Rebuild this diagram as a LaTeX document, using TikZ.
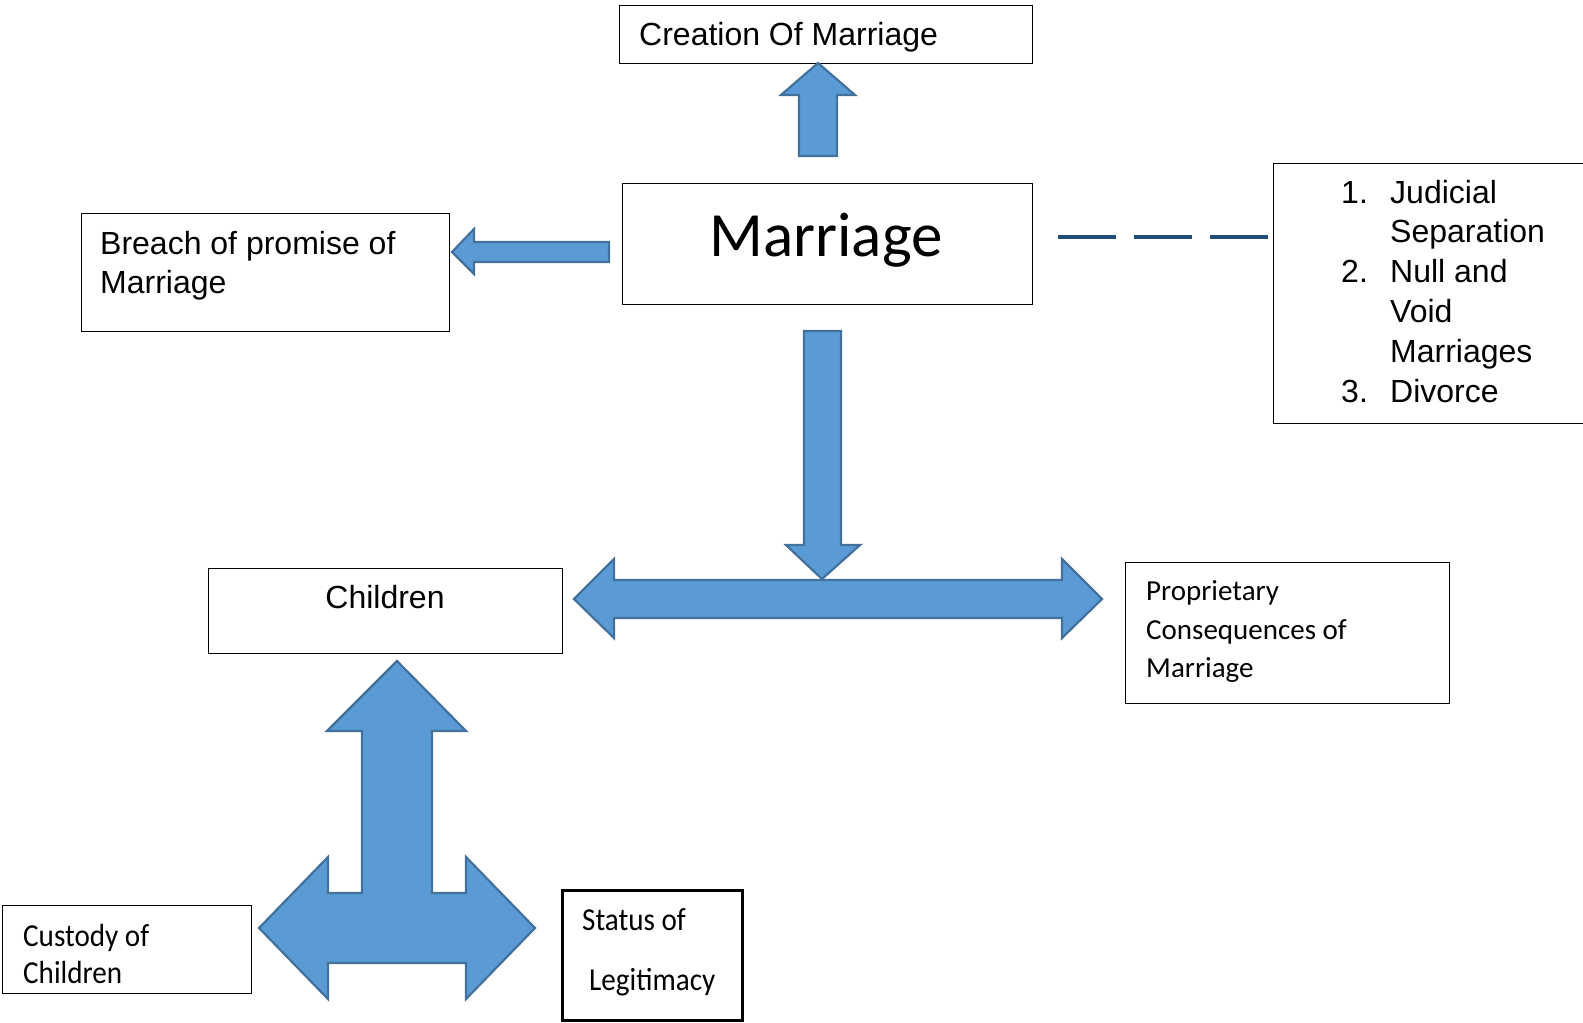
\documentclass[tikz,border=0pt]{standalone}
\usepackage{fontspec}
\setmainfont{Liberation Sans}
\newfontfamily\calfont{Carlito}
\newfontfamily\calnarrow[FakeStretch=0.91]{Carlito}
\definecolor{arrowfill}{HTML}{5B9BD5}
\definecolor{arrowline}{HTML}{41719C}
\definecolor{dashblue}{HTML}{1F4E79}
\begin{document}
\begin{tikzpicture}[x=1pt,y=-1pt,
  box/.style={draw=black, line width=1.4pt, inner sep=0pt, anchor=north west},
  blockarrow/.style={fill=arrowfill, draw=arrowline, line width=2.2pt, line join=miter},
  txt/.style={inner sep=0pt, anchor=base west, font=\fontsize{32}{38}\selectfont},
  caltxt/.style={inner sep=0pt, anchor=base west, font=\calfont\fontsize{29}{34}\selectfont},
  narrowtxt/.style={inner sep=0pt, anchor=base west, font=\calnarrow\fontsize{32}{38}\selectfont},
  dashline/.style={draw=dashblue, line width=4.5pt, dash pattern=on 58pt off 18pt}
]
\useasboundingbox (0,0) rectangle (1583,1023);
\fill[white] (0,0) rectangle (1583,1023);

% boxes
\node[box, minimum width=413pt, minimum height=58pt] (creation) at (619,5) {};
\node[box, minimum width=410pt, minimum height=121pt] (marriage) at (622,183) {};
\node[box, minimum width=368pt, minimum height=118pt] (breach) at (81,213) {};
\node[box, minimum width=330pt, minimum height=260pt] (list) at (1273,163) {};
\node[box, minimum width=354pt, minimum height=85pt] (children) at (208,568) {};
\node[box, minimum width=324pt, minimum height=141pt] (propr) at (1125,562) {};
\node[box, minimum width=249pt, minimum height=88pt] (custody) at (2,905) {};
\node[box, line width=2.5pt, minimum width=180pt, minimum height=130pt] (status) at (561,889) {};

% texts
\node[txt] (tcreation) at (639,45) {Creation Of Marriage};
\node[inner sep=0pt, anchor=base, font=\calfont\fontsize{63}{70}\selectfont] (tmarriage) at (826,256) {Marriage};
\node[txt] (tbreachA) at (100,254) {Breach of promise of};
\node[txt] (tbreachB) at (100,293) {Marriage};
\node[txt] (n1) at (1341,203) {1.};
\node[txt] (l1a) at (1390,203) {Judicial};
\node[txt] (l1b) at (1390,242) {Separation};
\node[txt] (n2) at (1341,282) {2.};
\node[txt] (l2a) at (1390,282) {Null and};
\node[txt] (l2b) at (1390,322) {Void};
\node[txt] (l2c) at (1390,362) {Marriages};
\node[txt] (n3) at (1341,402) {3.};
\node[txt] (l3) at (1390,402) {Divorce};
\node[txt, anchor=base] (tchildren) at (385,608) {Children};
\node[caltxt] (tpA) at (1146,600) {Proprietary};
\node[caltxt] (tpB) at (1146,639) {Consequences of};
\node[caltxt] (tpC) at (1146,677) {Marriage};
\node[narrowtxt] (tcA) at (23,946) {Custody of};
\node[narrowtxt] (tcB) at (23,983) {Children};
\node[narrowtxt] (tsA) at (582,930) {Status of};
\node[narrowtxt] (tsB) at (589,990) {Legitimacy};

% block arrows
\draw[blockarrow] (799,156) -- (799,95) -- (781,95) -- (818,63) -- (855,95) -- (837,95) -- (837,156) -- cycle;
\draw[blockarrow] (609,242) -- (474,242) -- (474,229) -- (452,252) -- (474,274) -- (474,262) -- (609,262) -- cycle;
\draw[blockarrow] (574,599) -- (614,559) -- (614,580) -- (1062,580) -- (1062,559) -- (1102,599) -- (1062,638) -- (1062,618) -- (614,618) -- (614,638) -- cycle;
\draw[blockarrow] (804,331) -- (841,331) -- (841,545) -- (860,545) -- (822,579) -- (786,545) -- (804,545) -- cycle;
\draw[blockarrow] (259,928) -- (328,857) -- (328,893) -- (362,893) -- (362,731) -- (327,731) -- (397,661) -- (466,731) -- (432,731) -- (432,893) -- (466,893) -- (466,857) -- (535,928) -- (466,999) -- (466,963) -- (328,963) -- (328,999) -- cycle;

% dashed link
\coordinate (dashA) at (1058,237);
\coordinate (dashB) at (1268,237);
\draw[dashline] (dashA) -- (dashB);
\end{tikzpicture}
\end{document}
